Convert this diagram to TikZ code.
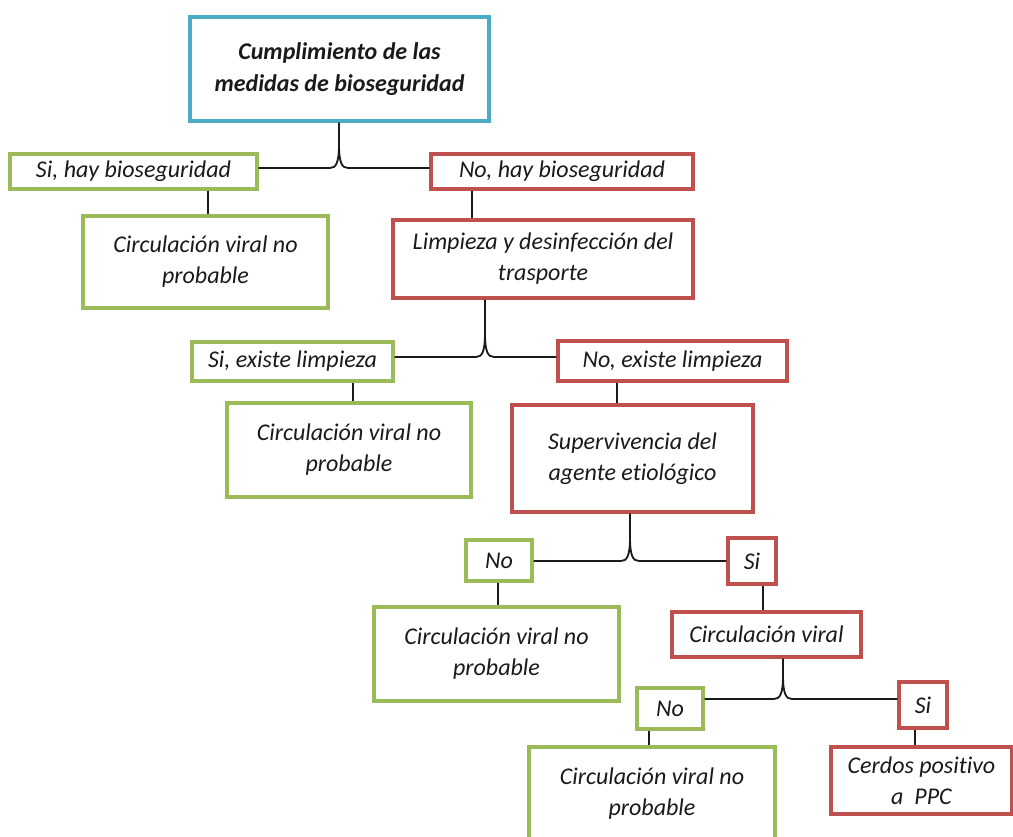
\documentclass[tikz,border=0pt]{standalone}
\usepackage{fontspec}
\setmainfont{Carlito}[Ligatures=NoCommon]
\definecolor{bblue}{HTML}{4BACC6}
\definecolor{bgreen}{HTML}{9BBB59}
\definecolor{bred}{HTML}{C0504D}
\definecolor{ink}{HTML}{1A1A1A}
\newcommand\bx[7]{\node[#2, minimum width={(#5-#3)*1pt}, minimum height={(#6-#4)*1pt}] (#1) at ({(#3+#5)/2},{(#4+#6)/2}) {#7};}
\newcommand\mybrace[4]{%
  \draw[conn] (#1.south -| #2) -- ([yshift=24pt]#2) .. controls ([yshift=5pt]#2) and ([xshift=-3pt]#2) .. ([xshift=-9pt]#2) -- (#3.east |- #2);
  \draw[conn] ([yshift=24pt]#2) .. controls ([yshift=5pt]#2) and ([xshift=3pt]#2) .. ([xshift=9pt]#2) -- (#4.west |- #2);}
\newcommand\mylink[3]{\draw[conn] (#1.south -| #3) -- (#2.north -| #3);}
\begin{document}
\begin{tikzpicture}[x=1pt,y=-1pt,
  box/.style={draw, line width=3.2pt, fill=white, inner sep=0pt, align=center, text=ink,
    font=\fontsize{24}{31}\selectfont\itshape},
  bbox/.style={box, draw=bblue, font=\fontsize{24}{32}\selectfont\bfseries\itshape},
  gbox/.style={box, draw=bgreen},
  rbox/.style={box, draw=bred},
  conn/.style={line width=1.8pt, draw=ink}]
\useasboundingbox (0,0) rectangle (1013,837);
\clip (0,0) rectangle (1013,837);
\fill[white] (0,0) rectangle (1013,837);

\bx{top}{bbox}{190}{17}{489}{121}{Cumplimiento de las\\medidas de bioseguridad}
\bx{si1}{gbox}{10}{154}{257}{189}{Si, hay bioseguridad}
\bx{no1}{rbox}{431}{154}{693}{189}{No, hay bioseguridad}
\bx{cv1}{gbox}{83}{216}{328}{308}{Circulación viral no\\probable}
\bx{limp}{rbox}{393}{220}{693}{298}{Limpieza y desinfección del\\trasporte}
\bx{si2}{gbox}{192}{342}{393}{381}{Si, existe limpieza}
\bx{no2}{rbox}{558}{341}{787}{381}{No, existe limpieza}
\bx{cv2}{gbox}{227}{403}{471}{497}{Circulación viral no\\probable}
\bx{sup}{rbox}{512}{405}{753}{512}{Supervivencia del\\agente etiológico}
\bx{no3}{gbox}{466}{540}{532}{581}{No}
\bx{si3}{rbox}{728}{538}{776}{584}{Si}
\bx{cv3}{gbox}{374}{607}{619}{701}{Circulación viral no\\probable}
\bx{circ}{rbox}{672}{612}{861}{657}{Circulación viral}
\bx{no4}{gbox}{637}{688}{703}{729}{No}
\bx{si4}{rbox}{899}{682}{947}{728}{Si}
\bx{cv4}{gbox}{529}{747}{775}{841}{Circulación viral no\\probable}
\bx{cer}{rbox}{831}{747}{1012}{814}{Cerdos positivo\\a~~PPC}

\coordinate (k1) at (339,168);
\coordinate (k2) at (485,357);
\coordinate (k3) at (630,561);
\coordinate (k4) at (783,699);
\mybrace{top}{k1}{si1}{no1}
\mybrace{limp}{k2}{si2}{no2}
\mybrace{sup}{k3}{no3}{si3}
\mybrace{circ}{k4}{no4}{si4}

\coordinate (c1) at (208,0);
\coordinate (c2) at (472,0);
\coordinate (c3) at (353,0);
\coordinate (c4) at (617,0);
\coordinate (c5) at (498,0);
\coordinate (c6) at (763,0);
\coordinate (c7) at (649,0);
\coordinate (c8) at (915,0);
\mylink{si1}{cv1}{c1}
\mylink{no1}{limp}{c2}
\mylink{si2}{cv2}{c3}
\mylink{no2}{sup}{c4}
\mylink{no3}{cv3}{c5}
\mylink{si3}{circ}{c6}
\mylink{no4}{cv4}{c7}
\mylink{si4}{cer}{c8}
\end{tikzpicture}
\end{document}
